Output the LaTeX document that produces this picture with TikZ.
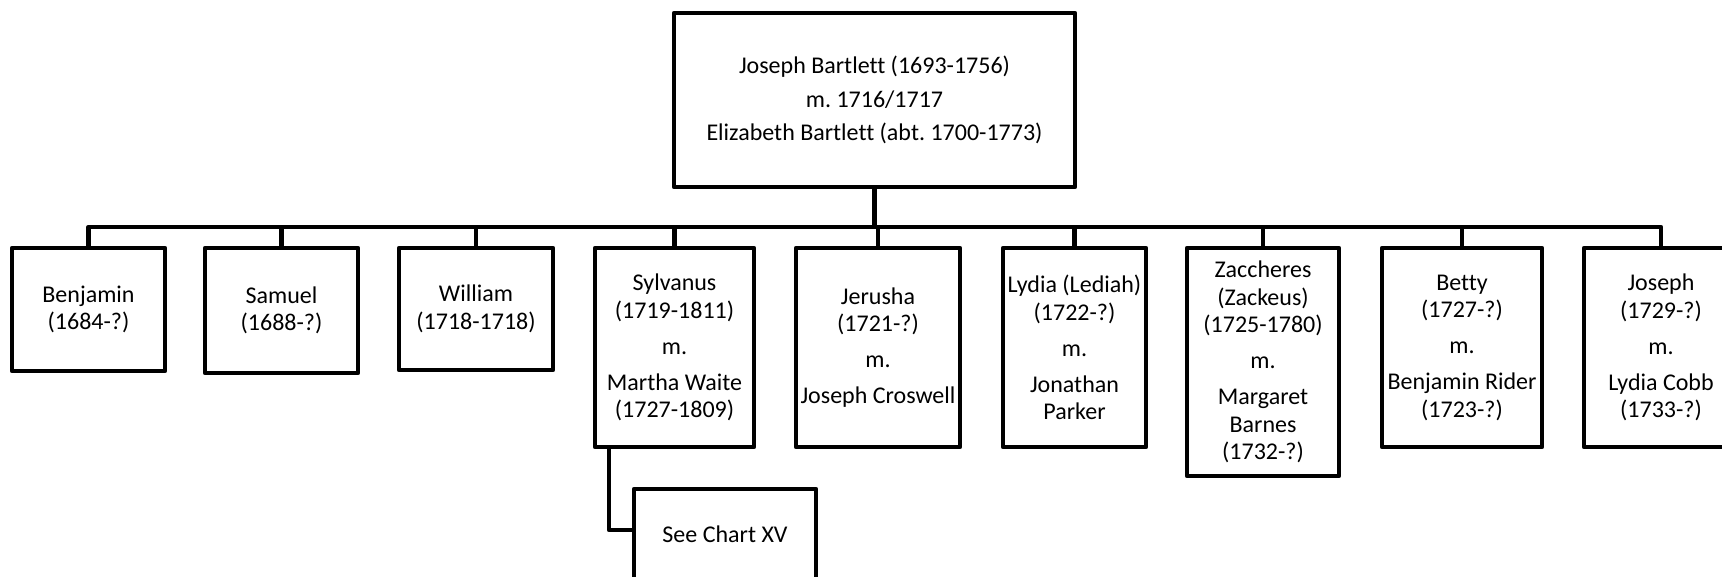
\documentclass[tikz,border=0pt]{standalone}
\usepackage{fontspec}
\setmainfont{Carlito}[Ligatures=NoCommon]
\begin{document}
\frenchspacing
\begin{tikzpicture}[x=1pt,y=-1pt,
  person/.style={draw=black, line width=4.5pt, line join=round, rectangle, inner sep=0pt,
    align=center, font=\fontsize{24}{27.5}\selectfont, fill=white},
  link/.style={draw=black, line width=4.5pt, line join=round}]
\useasboundingbox (0,0) rectangle (1722,577);
\def\gp{8.5pt}
\node[person, minimum width=401pt, minimum height=174pt] (top) at (874.5,100)
  {Joseph Bartlett (1693-1756)\\[6pt]m. 1716/1717\\[6pt]Elizabeth Bartlett (abt. 1700-1773)};
\node[person, minimum width=153pt, minimum height=123pt] (benj) at (88.5,309.5) {Benjamin\\(1684-?)};
\node[person, minimum width=153pt, minimum height=125pt] (sam) at (281.5,310.5) {Samuel\\(1688-?)};
\node[person, minimum width=154pt, minimum height=122pt] (wil) at (476,309) {William\\(1718-1718)};
\node[person, minimum width=159pt, minimum height=199pt] (syl) at (674.5,347.5)
  {Sylvanus\\(1719-1811)\\[\gp]m.\\[\gp]Martha Waite\\(1727-1809)};
\node[person, minimum width=164pt, minimum height=199pt] (jer) at (878,347.5)
  {Jerusha\\(1721-?)\\[\gp]m.\\[\gp]Joseph Croswell};
\node[person, minimum width=143pt, minimum height=199pt] (lyd) at (1074.5,347.5)
  {Lydia (Lediah)\\(1722-?)\\[\gp]m.\\[\gp]Jonathan\\Parker};
\node[person, minimum width=152pt, minimum height=228pt] (zac) at (1263,362)
  {Zaccheres\\(Zackeus)\\(1725-1780)\\[\gp]m.\\[\gp]Margaret\\Barnes\\(1732-?)};
\node[person, minimum width=160pt, minimum height=199pt] (bet) at (1462,347.5)
  {Betty\\(1727-?)\\[\gp]m.\\[\gp]Benjamin Rider\\(1723-?)};
\node[person, minimum width=154pt, minimum height=199pt] (jos) at (1661,347.5)
  {Joseph\\(1729-?)\\[\gp]m.\\[\gp]Lydia Cobb\\(1733-?)};
\node[person, minimum width=182pt, minimum height=90pt] (see) at (725,534) {See Chart XV};
\coordinate (bar) at (0,227);
\coordinate (sylc) at (609,530);
\draw[link] (top.south) -- (top.south |- bar);
\draw[link] (benj.north) |- (jos.north |- bar) -- (jos.north);
\foreach \n in {sam,wil,syl,jer,lyd,zac,bet}
  \draw[link] (\n.north) -- (\n.north |- bar);
\draw[link] (syl.south -| sylc) |- (see.west |- sylc);
\end{tikzpicture}
\end{document}
